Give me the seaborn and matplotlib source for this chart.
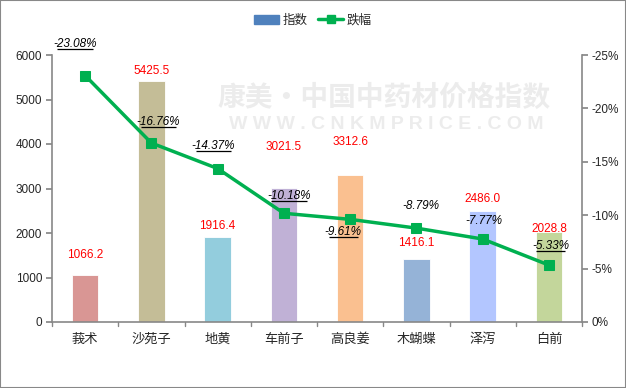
import numpy as np
import pandas as pd
import matplotlib
matplotlib.use("Agg")
import matplotlib.pyplot as plt
import seaborn as sns
from matplotlib.patches import Patch, Rectangle
from matplotlib.lines import Line2D

# data
herbs = ['莪术', '沙苑子', '地黄', '车前子', '高良姜', '木蝴蝶', '泽泻', '白前']
index_vals = [1066.2, 5425.5, 1916.4, 3021.5, 3312.6, 1416.1, 2486.0, 2028.8]
drop_pct = [-23.08, -16.76, -14.37, -10.18, -9.61, -8.79, -7.77, -5.33]

bar_colors = ['#d99694', '#c4bd97', '#93cddd', '#c0b1d6',
              '#fac090', '#95b3d7', '#b3c6ff', '#c3d69b']
LINE_GREEN = '#00b050'

# label nudges in pixels (manually placed in the original)
val_dy = [20, 10, 11, 41, 33, 16, 12, 3]
pct_dx = [-10, 7, -4, 5, -7, 5, 1, 2]
pct_dy = [32, 21, 23, 17, -13, 22, 18, 19]
pct_underline = [True, True, True, True, True, False, False, True]

sns.set_theme(style="white")
plt.rcParams['font.family'] = ['Liberation Sans', 'Noto Sans CJK SC', 'DejaVu Sans']
plt.rcParams['axes.unicode_minus'] = False
CJK = ['Noto Sans CJK SC', 'DejaVu Sans']

df = pd.DataFrame({'herb': herbs, 'index': index_vals})

fig = plt.figure(figsize=(6.26, 3.88), dpi=100)
ax = fig.add_axes([52 / 626, 66 / 388, 530 / 626, 267 / 388])

sns.barplot(data=df, x='herb', y='index', hue='herb', palette=bar_colors,
            width=0.4, legend=False, ax=ax, saturation=1, edgecolor='white',
            linewidth=0.6, zorder=2)

ax.set_xlim(-0.5, len(herbs) - 0.5)
ax.set_ylim(0, 6000)
ax.set_yticks(np.arange(0, 6001, 1000))
ax.set_xlabel('')
ax.set_ylabel('')
ax.tick_params(axis='y', labelsize=8.5, length=4, color='#888888', pad=3, left=True)
ax.tick_params(axis='x', labelsize=9.5, length=0, pad=8)
for lbl in ax.get_xticklabels():
    lbl.set_family(CJK)
# category boundary ticks like the original
for b in np.arange(-0.5, len(herbs), 1.0):
    ax.plot([b, b], [0, -0.015], transform=ax.get_xaxis_transform(),
            color='#888888', lw=1, clip_on=False)
for s in ['top', 'right']:
    ax.spines[s].set_visible(False)
for s in ['left', 'bottom']:
    ax.spines[s].set_color('#888888')
    ax.spines[s].set_linewidth(1.2)

# value labels (red)
for i, v in enumerate(index_vals):
    ax.annotate(f'{v:.1f}', (i, v), xytext=(0, val_dy[i]), textcoords='offset pixels',
                ha='center', va='center', color='red', fontsize=8.5, zorder=5)

# watermark
ax.text(0.626, 0.839, '康美·中国中药材价格指数', transform=ax.transAxes, ha='center',
        va='center', fontsize=20, fontweight='bold', color='#dddddd', alpha=0.55,
        family=CJK, zorder=3)
ax.text(0.63, 0.738, 'W W W . C N K M P R I C E . C O M', transform=ax.transAxes,
        ha='center', va='center', fontsize=14, fontweight='bold', color='#dddddd',
        alpha=0.55, zorder=3)

# right axis: decline, inverted
ax2 = ax.twinx()
sns.lineplot(x=np.arange(len(herbs)), y=drop_pct, ax=ax2, color=LINE_GREEN, lw=2.5,
             marker='s', markersize=7, markeredgecolor=LINE_GREEN, zorder=4)
ax2.set_ylim(0, -25)
ax2.set_yticks(np.arange(0, -26, -5))
ax2.set_yticklabels([f'{t:.0f}%' for t in np.arange(0, -26, -5)])
ax2.tick_params(axis='y', labelsize=8.5, length=4, color='#888888', pad=3, right=True)
ax2.set_ylabel('')
ax2.spines['top'].set_visible(False)
ax2.spines['left'].set_visible(False)
ax2.spines['bottom'].set_visible(False)
ax2.spines['right'].set_color('#888888')
ax2.spines['right'].set_linewidth(1.2)

pct_texts = []
for i, p in enumerate(drop_pct):
    t = ax2.annotate(f'{p:.2f}%', (i, p), xytext=(pct_dx[i], pct_dy[i]),
                     textcoords='offset pixels', ha='center', va='center', fontsize=8.5,
                     color='black', style='italic', zorder=5)
    pct_texts.append(t)

# legend at top
handles = [Patch(facecolor='#4f81bd', edgecolor='#4f81bd'),
           Line2D([], [], color=LINE_GREEN, lw=2.5, marker='s', markersize=6)]
fig.legend(handles, ['指数', '跌幅'], loc='center', bbox_to_anchor=(0.5, 0.948), ncol=2,
           frameon=False, handlelength=2.0, columnspacing=0.8, handletextpad=0.3,
           prop={'family': CJK, 'size': 9})

fig.patches.append(Rectangle((0, 0), 1, 1, transform=fig.transFigure, fill=False,
                             edgecolor='#888888', lw=1.5))

# underline the labels that are underlined in the original
fig.canvas.draw()
renderer = fig.canvas.get_renderer()
for t, u in zip(pct_texts, pct_underline):
    if not u:
        continue
    bb = t.get_window_extent(renderer)
    y = bb.y0 + 1
    fig.add_artist(Line2D([bb.x0 + 4, bb.x1 - 4], [y, y], transform=None,
                          color='black', lw=0.9, solid_capstyle='butt'))

fig.savefig('out.png', dpi=100)
